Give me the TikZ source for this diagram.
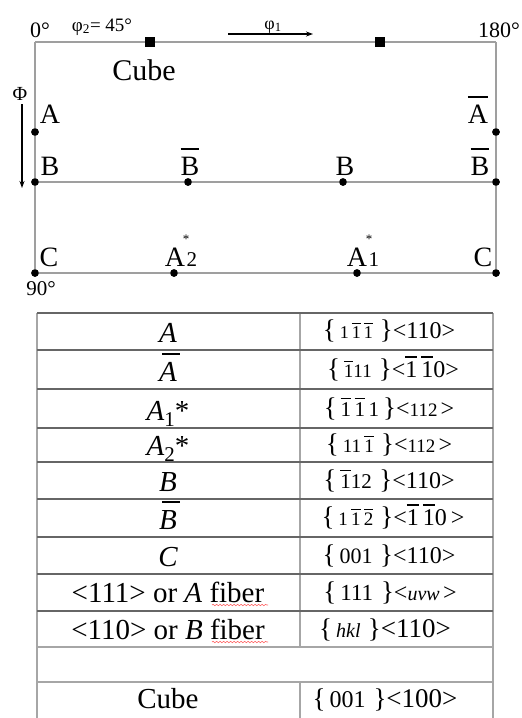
\documentclass[tikz,border=0pt]{standalone}
\usepackage{fontspec}
\setmainfont{Liberation Serif}
\usetikzlibrary{arrows.meta,decorations.pathmorphing}
\newcommand\fs[1]{\fontsize{#1}{#1}\selectfont}
\newcommand\ob[1]{\leavevmode\setbox0\hbox{#1}\rlap{\rule[0.8em]{\wd0}{0.055em}}\box0\relax}
\newcommand\obl[2][0pt]{\leavevmode\setbox0\hbox{#2}\rlap{\hspace{#1}\rule[0.9em]{\wd0}{0.05em}}\box0\relax}
\newcommand\rc[3]{{\fs{27}\{}\,{\fs{#1}#2}\,{\fs{27}\}}#3}
\begin{document}
\begin{tikzpicture}[x=1pt,y=-1pt,
  frame/.style={draw=gray!75, line width=1.3pt},
  dot/.style={circle, fill=black, inner sep=0pt, minimum size=7.5pt},
  sq/.style={rectangle, fill=black, inner sep=0pt, minimum size=10pt},
  lab/.style={anchor=base, inner sep=0pt, font=\fs{28}},
  small/.style={anchor=base, inner sep=0pt, font=\fs{18}},
  hline/.style={draw=gray!80!black, line width=1.5pt},
  hlinel/.style={draw=gray!70, line width=1.2pt},
  vline/.style={draw=gray!70, line width=1.1pt},
  lcell/.style={anchor=base, inner sep=0pt, font=\fs{29}},
  rcell/.style={anchor=base, inner sep=0pt, font=\fs{24}},
  arr/.style={line width=1.3pt, -{Stealth[length=7pt,width=5pt]}},
  squig/.style={draw=red!60!white, line width=0.6pt, decorate,
    decoration={snake, amplitude=0.7pt, segment length=3.5pt}}]
\useasboundingbox (0,0) rectangle (522,718);
% ---------- upper map ----------
\coordinate (tl) at (35,42);
\coordinate (tr) at (496,42);
\node[dot] (Al) at (35,132) {};
\node[dot] (Ar) at (496,132) {};
\node[dot] (B1) at (35,182) {};
\node[dot] (B2) at (188,182) {};
\node[dot] (B3) at (343,182) {};
\node[dot] (B4) at (496,182) {};
\node[dot] (C1) at (35,273) {};
\node[dot] (C2) at (174,273) {};
\node[dot] (C3) at (357,273) {};
\node[dot] (C4) at (496,273) {};
\draw[frame] (tl) -- (tr);
\draw[frame] (tl) -- (Al.center) -- (B1.center) -- (C1.center);
\draw[frame] (tr) -- (Ar.center) -- (B4.center) -- (C4.center);
\draw[frame] (B1.center) -- (B2.center) -- (B3.center) -- (B4.center);
\draw[frame] (C1.center) -- (C2.center) -- (C3.center) -- (C4.center);
\node[sq] (S1) at (150,42) {};
\node[sq] (S2) at (380,42) {};
\foreach \n in {Al,Ar,B1,B2,B3,B4,C1,C2,C3,C4} {\node[dot] at (\n) {};}
% labels
\node[small, font=\fs{22}] (d0) at (40,37) {0°};
\node[small, font=\fs{19}] (phi2) at (102,31) {φ\textsubscript{2}= 45°};
\node[small, font=\fs{18}] (phi1) at (273,29) {φ\textsubscript{1}};
\coordinate (p1s) at (228,34);
\coordinate (p1e) at (313,34);
\draw[arr] (p1s) -- (p1e);
\node[small, font=\fs{22}] (d180) at (499,37) {180°};
\node[lab, font=\fs{30}] (cube) at (144,80) {Cube};
\node[small, font=\fs{20}] (Phi) at (20,100) {Φ};
\coordinate (Ps) at (22,104);
\coordinate (Pe) at (22,188);
\draw[arr] (Ps) -- (Pe);
\node[small, font=\fs{21}] (d90) at (41,295) {90°};
\node[lab] (tA) at (50,123) {A};
\node[lab] (tAb) at (478,123) {\obl{A}};
\node[lab] (tB1) at (50,175) {B};
\node[lab] (tB2) at (190,175) {\obl{B}};
\node[lab] (tB3) at (345,175) {B};
\node[lab] (tB4) at (480,175) {\obl{B}};
\node[lab] (tC1) at (49,266) {C};
\node[lab] (tC4) at (483,266) {C};
\node[lab, text height=19pt] (tA2) at (175,266) {A};
\node[anchor=base west, inner sep=0pt, font=\fs{21}] (tA2s) at ([xshift=1pt]tA2.base east) {2};
\node[anchor=south, inner sep=0pt, font=\fs{13}, text height=9pt] (tA2a) at (186,243.5) {*};
\node[lab, text height=19pt] (tA1) at (357,266) {A};
\node[anchor=base west, inner sep=0pt, font=\fs{21}] (tA1s) at ([xshift=1pt]tA1.base east) {1};
\node[anchor=south, inner sep=0pt, font=\fs{13}, text height=9pt] (tA1a) at (369,243.5) {*};
% ---------- table ----------
\coordinate (L0) at (37,313);
\coordinate (R0) at (493,313);
\coordinate (M0) at (300,313);
\coordinate (Lb) at (37,718);
\coordinate (Rb) at (493,718);
\coordinate (M1) at (300,647);
\coordinate (M2) at (300,682);
\coordinate (Mb) at (300,718);
\draw[vline] (L0) -- (Lb);
\draw[vline] (R0) -- (Rb);
\draw[vline] (M0) -- (M1);
\draw[vline] (M2) -- (Mb);
\draw[hline] (L0) -- (R0);
\foreach \y in {350,389,428,462,499,537,574,611} {\draw[hline] (37,\y) -- (493,\y);}
\foreach \y in {647,682} {\draw[hlinel] (37,\y) -- (493,\y);}
% left column
\node[lcell] (l1) at (168,342) {\itshape A};
\node[lcell] (l2) at (168,381) {\obl[3pt]{\itshape A}};
\node[lcell] (l3) at (168,420) {\itshape A\upshape\raisebox{-0.22em}{\fs{21}1}*};
\node[lcell] (l4) at (168,455) {\itshape A\upshape\raisebox{-0.22em}{\fs{21}2}*};
\node[lcell] (l5) at (168,491) {\itshape B};
\node[lcell] (l6) at (168,529) {\obl[3pt]{\itshape B}};
\node[lcell] (l7) at (168,566) {\itshape C};
\node[lcell] (l8) at (168,602) {<111> or \textit{A} fiber};
\node[lcell] (l9) at (168,639) {<110> or \textit{B} fiber};
\node[lcell] (l11) at (168,708) {Cube};
\draw[squig] (212,605) -- (268,605);
\draw[squig] (212,642) -- (268,642);
% right column
\node[rcell] (r1) at (389,338) {\rc{18}{1\,\ob{1}\,\ob{1}\,}{<110>}};
\node[rcell] (r2) at (393,377) {\rc{19}{\ob{1}11\,}{<\ob{1}\,\ob{1}0>}};
\node[rcell] (r3) at (389,416) {\rc{21}{\ob{1}\,\ob{1}\,1}{<{\fs{19}112\,}>}};
\node[rcell] (r4) at (389,452) {\rc{19}{11\,\ob{1}\,}{<{\fs{19}112\,}>}};
\node[rcell] (r5) at (389,488) {\rc{21}{\ob{1}12\,}{<110>}};
\node[rcell] (r6) at (393,525) {\rc{19}{1\,\ob{1}\,\ob{2}\,}{<\ob{1}\,\ob{1}0\,>}};
\node[rcell] (r7) at (389,563) {\rc{22}{001\,}{<110>}};
\node[rcell] (r8) at (390,600) {\rc{23}{111\,}{<{\fs{20}\itshape uvw\,}>}};
\node[rcell] (r9) at (385,637) {\rc{20}{\itshape hkl\,}{{\fs{27}<110>}}};
\node[rcell] (r11) at (385,707) {\rc{24}{001\,}{{\fs{27}<100>}}};
\end{tikzpicture}
\end{document}
